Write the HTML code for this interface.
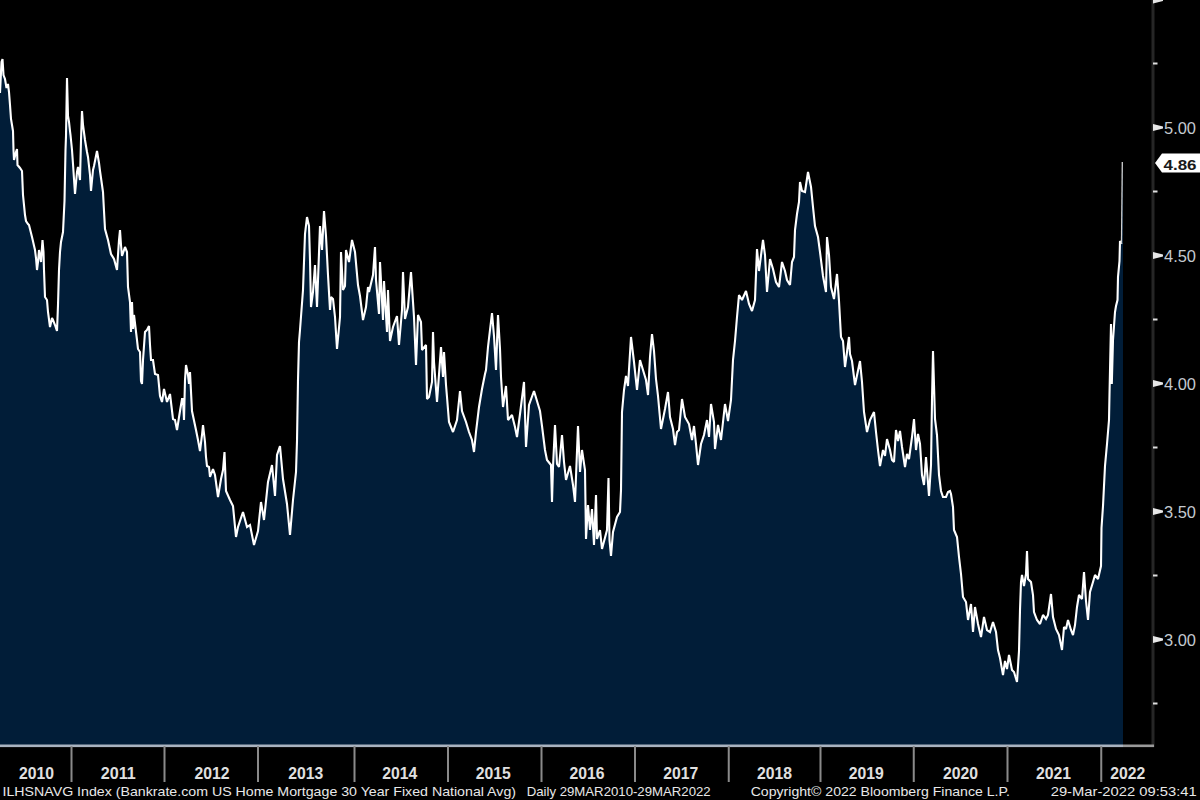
<!DOCTYPE html>
<html><head><meta charset="utf-8">
<style>
html,body{margin:0;padding:0;background:#000;}
body{width:1200px;height:800px;overflow:hidden;position:relative;font-family:"Liberation Sans",sans-serif;}
svg{position:absolute;left:0;top:0;}
.yr text{font-family:"Liberation Sans",sans-serif;font-size:16.2px;font-weight:bold;fill:#e0e0e0;}
.ax text{font-family:"Liberation Sans",sans-serif;font-size:16px;fill:#c4cad0;}
.ft text{font-family:"Liberation Sans",sans-serif;font-size:13px;fill:#e8e8e8;}
</style></head><body>
<svg width="1200" height="800" viewBox="0 0 1200 800">
<path d="M0,746 L0,93 L1.5,62 L2.5,59 L3.5,75 L5,79 L6.5,88 L8,84 L9,92 L10,105 L11,119 L12.5,128 L13,131 L13.5,150 L14,160 L16,152 L17,149 L17.5,165 L20,168 L22,171 L23,195 L25,215 L26,221 L28,224 L29,225 L32,237 L35,250 L36,258 L37,270 L38,262 L39,250 L41,262 L42.5,240 L43.5,252 L44,270 L45,297 L47,300 L48,312 L50,327 L52,318 L53,320 L55,325 L57,331 L58,305 L59,270 L60,252 L61,242 L63,232 L64.5,201 L65.5,150 L66,136 L67,78 L68,116 L69,122 L70,131 L70.5,135 L72,150 L73,164 L75,194 L77,172 L78,167 L80,180 L81,140 L82,111 L83,125 L85,140 L87,152 L88,157 L90,175 L91,191 L93,170 L94,166 L97,151 L99,163 L100,171 L102,185 L103,192 L104,211 L105,229 L108,240 L111,254 L114,259 L117,270 L119,240 L120,230 L121,245 L122,256 L125,247 L127,252 L128,287 L130,302 L131,332 L132,302 L133,329 L134,315 L137,340 L138,349 L140,352 L141,381 L142,384 L143,360 L145,332 L147,330 L149,326 L150,345 L151,360 L153,360 L155,374 L158,375 L160,396 L162,402 L164,389 L167,402 L170,394 L173,419 L175,420 L177,430 L180,411 L182,399 L183,399 L184,420 L185,380 L186,365 L188,375 L189,384 L190,372 L192,411 L196,430 L198,440 L200,451 L202,435 L203,425 L205,442 L206,457 L207,466 L209,467 L210,477 L213,469 L215,475 L218,497 L221,479 L223,470 L224.5,452 L226,491 L230,500 L233,506 L236,537 L238,527 L243,512 L247,527 L250,525 L254,545 L258,531 L261,502 L264,520 L268,482 L272,465 L275,496 L277,455 L280,446 L283,479 L287,504 L290,535 L293,500 L296,472 L297,441 L298,380 L299,342 L300,330 L303,290 L305,234 L307,217 L309,226 L310,260 L311,307 L313,292 L315,265 L317,307 L320,226 L322,250 L324,211 L326,236 L328,275 L330,310 L331,297 L333,299 L335,317 L337,349 L340,317 L341,252 L343,290 L345,286 L346,250 L349,262 L352,240 L355,252 L358,285 L360,296 L363,320 L366,307 L368,287 L369,292 L373,275 L375,247 L376,280 L379,314 L380,262 L383,320 L384,281 L387,332 L388,290 L390,341 L393,327 L397,316 L399,345 L402,310 L403,272 L405,319 L408,307 L411,272 L414,317 L416,365 L418,315 L421,322 L422,350 L426,345 L427,399 L429,397 L432,382 L433,332 L434,362 L437,402 L441,347 L443,377 L444,352 L446,385 L447,397 L449,422 L453,432 L457,420 L460,391 L462,411 L466,422 L469,432 L472,440 L474,452 L476,432 L479,407 L482,389 L485,374 L486,370 L488,347 L492,313 L494,336 L496,370 L498,315 L500,349 L501,377 L503,407 L506,386 L508,420 L512,415 L515,427 L517,437 L520,414 L524,382 L526,447 L529,405 L534,391 L537,401 L540,411 L542,426 L545,450 L547,460 L551,465 L552,502 L553,467 L555,425 L557,464 L559,467 L562,435 L564,462 L566,480 L570,466 L573,485 L575,502 L578,426 L580,472 L582,450 L585,470 L586,539 L588,505 L590,530 L592,509 L594,545 L596,495 L597,539 L600,530 L602,549 L607,530 L608.5,478 L609.5,540 L611,556 L613,532 L617,517 L620,512 L621,490 L622,412 L624,390 L626,376 L628,386 L631,337 L634,362 L637,390 L640,360 L643,370 L646,380 L648,395 L650,357 L652,334 L654,351 L656,379 L658,396 L661,429 L665,409 L668,392 L670,417 L673,429 L675,445 L677,432 L679,430 L682,399 L685,417 L689,424 L692,440 L694,426 L696,444 L698,465 L701,444 L704,435 L707,420 L709,437 L711,404 L714,422 L715,449 L718,425 L721,440 L725,404 L728,421 L731,400 L733,360 L735,341 L737,317 L739,295 L742,300 L746,291 L749,304 L752,311 L755,300 L757,249 L759,271 L763,240 L765,255 L767,292 L770,259 L773,269 L776,282 L779,287 L782,262 L785,271 L787,280 L790,285 L792,262 L794,257 L795,230 L797,214 L799,202 L800,182 L802,191 L805,192 L808,172 L811,187 L813,207 L815,226 L818,237 L820,252 L823,276 L826,292 L827,237 L829,255 L831,287 L834,299 L837,274 L839,301 L841,337 L843,341 L845,367 L849,337 L850,354 L852,361 L855,385 L860,361 L862,382 L864,412 L867,432 L870,420 L874,412 L876,432 L878,450 L880,466 L883,450 L885,456 L887,439 L890,450 L892,460 L894,462 L896,430 L898,441 L900,431 L902,447 L905,467 L907,454 L909,459 L912,437 L914,419 L916,450 L918,434 L920,444 L922,475 L924,485 L926,457 L929,496 L931,465 L932,400 L933,351 L935,419 L937,435 L939,475 L941,491 L943,497 L946,497 L948,492 L950,491 L951,494 L953,507 L954,530 L957,537 L959,557 L961,574 L963,597 L966,602 L968,620 L971,604 L973,632 L975,607 L978,624 L981,637 L984,617 L987,630 L990,632 L993,622 L996,632 L998,650 L1000,658 L1003,675 L1005,661 L1007,669 L1009,655 L1012,670 L1014,672 L1017,682 L1019,651 L1020,610 L1021,582 L1022,575 L1024,586 L1026,574 L1027,551 L1028,579 L1031,582 L1033,595 L1034,612 L1037,620 L1040,624 L1043,615 L1046,619 L1048,615 L1051,594 L1053,617 L1056,629 L1059,635 L1062,650 L1064,627 L1066,629 L1068,620 L1071,630 L1073,635 L1075,625 L1077,607 L1079,595 L1082,599 L1084,572 L1086,601 L1088,620 L1090,592 L1093,582 L1095,575 L1098,579 L1101,566 L1101.5,528 L1103,506 L1105,466 L1107,444 L1109,420 L1109.5,394 L1111,324 L1111.8,384 L1113,340 L1115,312 L1116,306 L1117.5,300 L1118,277 L1119.5,261 L1120,241 L1121.5,244 L1122.3,162 L1123,162 L1123,746 Z" fill="#011d38"/>
<polyline points="0,93 1.5,62 2.5,59 3.5,75 5,79 6.5,88 8,84 9,92 10,105 11,119 12.5,128 13,131 13.5,150 14,160 16,152 17,149 17.5,165 20,168 22,171 23,195 25,215 26,221 28,224 29,225 32,237 35,250 36,258 37,270 38,262 39,250 41,262 42.5,240 43.5,252 44,270 45,297 47,300 48,312 50,327 52,318 53,320 55,325 57,331 58,305 59,270 60,252 61,242 63,232 64.5,201 65.5,150 66,136 67,78 68,116 69,122 70,131 70.5,135 72,150 73,164 75,194 77,172 78,167 80,180 81,140 82,111 83,125 85,140 87,152 88,157 90,175 91,191 93,170 94,166 97,151 99,163 100,171 102,185 103,192 104,211 105,229 108,240 111,254 114,259 117,270 119,240 120,230 121,245 122,256 125,247 127,252 128,287 130,302 131,332 132,302 133,329 134,315 137,340 138,349 140,352 141,381 142,384 143,360 145,332 147,330 149,326 150,345 151,360 153,360 155,374 158,375 160,396 162,402 164,389 167,402 170,394 173,419 175,420 177,430 180,411 182,399 183,399 184,420 185,380 186,365 188,375 189,384 190,372 192,411 196,430 198,440 200,451 202,435 203,425 205,442 206,457 207,466 209,467 210,477 213,469 215,475 218,497 221,479 223,470 224.5,452 226,491 230,500 233,506 236,537 238,527 243,512 247,527 250,525 254,545 258,531 261,502 264,520 268,482 272,465 275,496 277,455 280,446 283,479 287,504 290,535 293,500 296,472 297,441 298,380 299,342 300,330 303,290 305,234 307,217 309,226 310,260 311,307 313,292 315,265 317,307 320,226 322,250 324,211 326,236 328,275 330,310 331,297 333,299 335,317 337,349 340,317 341,252 343,290 345,286 346,250 349,262 352,240 355,252 358,285 360,296 363,320 366,307 368,287 369,292 373,275 375,247 376,280 379,314 380,262 383,320 384,281 387,332 388,290 390,341 393,327 397,316 399,345 402,310 403,272 405,319 408,307 411,272 414,317 416,365 418,315 421,322 422,350 426,345 427,399 429,397 432,382 433,332 434,362 437,402 441,347 443,377 444,352 446,385 447,397 449,422 453,432 457,420 460,391 462,411 466,422 469,432 472,440 474,452 476,432 479,407 482,389 485,374 486,370 488,347 492,313 494,336 496,370 498,315 500,349 501,377 503,407 506,386 508,420 512,415 515,427 517,437 520,414 524,382 526,447 529,405 534,391 537,401 540,411 542,426 545,450 547,460 551,465 552,502 553,467 555,425 557,464 559,467 562,435 564,462 566,480 570,466 573,485 575,502 578,426 580,472 582,450 585,470 586,539 588,505 590,530 592,509 594,545 596,495 597,539 600,530 602,549 607,530 608.5,478 609.5,540 611,556 613,532 617,517 620,512 621,490 622,412 624,390 626,376 628,386 631,337 634,362 637,390 640,360 643,370 646,380 648,395 650,357 652,334 654,351 656,379 658,396 661,429 665,409 668,392 670,417 673,429 675,445 677,432 679,430 682,399 685,417 689,424 692,440 694,426 696,444 698,465 701,444 704,435 707,420 709,437 711,404 714,422 715,449 718,425 721,440 725,404 728,421 731,400 733,360 735,341 737,317 739,295 742,300 746,291 749,304 752,311 755,300 757,249 759,271 763,240 765,255 767,292 770,259 773,269 776,282 779,287 782,262 785,271 787,280 790,285 792,262 794,257 795,230 797,214 799,202 800,182 802,191 805,192 808,172 811,187 813,207 815,226 818,237 820,252 823,276 826,292 827,237 829,255 831,287 834,299 837,274 839,301 841,337 843,341 845,367 849,337 850,354 852,361 855,385 860,361 862,382 864,412 867,432 870,420 874,412 876,432 878,450 880,466 883,450 885,456 887,439 890,450 892,460 894,462 896,430 898,441 900,431 902,447 905,467 907,454 909,459 912,437 914,419 916,450 918,434 920,444 922,475 924,485 926,457 929,496 931,465 932,400 933,351 935,419 937,435 939,475 941,491 943,497 946,497 948,492 950,491 951,494 953,507 954,530 957,537 959,557 961,574 963,597 966,602 968,620 971,604 973,632 975,607 978,624 981,637 984,617 987,630 990,632 993,622 996,632 998,650 1000,658 1003,675 1005,661 1007,669 1009,655 1012,670 1014,672 1017,682 1019,651 1020,610 1021,582 1022,575 1024,586 1026,574 1027,551 1028,579 1031,582 1033,595 1034,612 1037,620 1040,624 1043,615 1046,619 1048,615 1051,594 1053,617 1056,629 1059,635 1062,650 1064,627 1066,629 1068,620 1071,630 1073,635 1075,625 1077,607 1079,595 1082,599 1084,572 1086,601 1088,620 1090,592 1093,582 1095,575 1098,579 1101,566 1101.5,528 1103,506 1105,466 1107,444 1109,420 1109.5,394 1111,324 1111.8,384 1113,340 1115,312 1116,306 1117.5,300 1118,277 1119.5,261 1120,241 1121.5,244" fill="none" stroke="#ffffff" stroke-width="2.1" stroke-linejoin="miter" stroke-miterlimit="2"/>
<polyline points="1121.5,244 1122.3,162" fill="none" stroke="#d0d0d0" stroke-width="1.3"/>
<rect x="1151.5" y="0" width="3" height="747" fill="#262626"/>
<rect x="0" y="744.5" width="1123" height="2.6" fill="#a9b3c0"/>
<rect x="1123" y="744.5" width="31" height="2.6" fill="#9a9a9a"/>
<rect x="70.50" y="746" width="2" height="36" fill="#8a8a8a"/><rect x="163.50" y="746" width="2" height="36" fill="#8a8a8a"/><rect x="257.00" y="746" width="2" height="36" fill="#8a8a8a"/><rect x="353.50" y="746" width="2" height="36" fill="#8a8a8a"/><rect x="447.00" y="746" width="2" height="36" fill="#8a8a8a"/><rect x="540.50" y="746" width="2" height="36" fill="#8a8a8a"/><rect x="634.00" y="746" width="2" height="36" fill="#8a8a8a"/><rect x="727.75" y="746" width="2" height="36" fill="#8a8a8a"/><rect x="819.50" y="746" width="2" height="36" fill="#8a8a8a"/><rect x="912.75" y="746" width="2" height="36" fill="#8a8a8a"/><rect x="1006.50" y="746" width="2" height="36" fill="#8a8a8a"/><rect x="1100.25" y="746" width="2" height="36" fill="#8a8a8a"/>
<g class="yr"><text x="19.0" y="779.3" textLength="35" lengthAdjust="spacingAndGlyphs">2010</text><text x="100.8" y="779.3" textLength="35" lengthAdjust="spacingAndGlyphs">2011</text><text x="194.5" y="779.3" textLength="35" lengthAdjust="spacingAndGlyphs">2012</text><text x="288.3" y="779.3" textLength="35" lengthAdjust="spacingAndGlyphs">2013</text><text x="382.3" y="779.3" textLength="35" lengthAdjust="spacingAndGlyphs">2014</text><text x="475.8" y="779.3" textLength="35" lengthAdjust="spacingAndGlyphs">2015</text><text x="569.6" y="779.3" textLength="35" lengthAdjust="spacingAndGlyphs">2016</text><text x="663.2" y="779.3" textLength="35" lengthAdjust="spacingAndGlyphs">2017</text><text x="757.0" y="779.3" textLength="35" lengthAdjust="spacingAndGlyphs">2018</text><text x="848.8" y="779.3" textLength="35" lengthAdjust="spacingAndGlyphs">2019</text><text x="943.0" y="779.3" textLength="35" lengthAdjust="spacingAndGlyphs">2020</text><text x="1036.0" y="779.3" textLength="35" lengthAdjust="spacingAndGlyphs">2021</text><text x="1110.2" y="779.3" textLength="35" lengthAdjust="spacingAndGlyphs">2022</text></g>
<g class="ax"><polygon points="1153,-3.5 1163,-1.0 1163,1.0 1153,3.5" fill="#e6e6e6"/><polygon points="1153,124.0 1163,126.5 1163,128.5 1153,131.0" fill="#e6e6e6"/><text x="1164" y="133.5" textLength="32" lengthAdjust="spacingAndGlyphs">5.00</text><polygon points="1153,252.0 1163,254.5 1163,256.5 1153,259.0" fill="#e6e6e6"/><text x="1164" y="261.5" textLength="32" lengthAdjust="spacingAndGlyphs">4.50</text><polygon points="1153,380.0 1163,382.5 1163,384.5 1153,387.0" fill="#e6e6e6"/><text x="1164" y="389.5" textLength="32" lengthAdjust="spacingAndGlyphs">4.00</text><polygon points="1153,508.0 1163,510.5 1163,512.5 1153,515.0" fill="#e6e6e6"/><text x="1164" y="517.5" textLength="32" lengthAdjust="spacingAndGlyphs">3.50</text><polygon points="1153,636.0 1163,638.5 1163,640.5 1153,643.0" fill="#e6e6e6"/><text x="1164" y="645.5" textLength="32" lengthAdjust="spacingAndGlyphs">3.00</text><rect x="1153" y="62.5" width="4.5" height="2" fill="#dedede"/><rect x="1153" y="190.5" width="4.5" height="2" fill="#dedede"/><rect x="1153" y="318.5" width="4.5" height="2" fill="#dedede"/><rect x="1153" y="446.5" width="4.5" height="2" fill="#dedede"/><rect x="1153" y="574.5" width="4.5" height="2" fill="#dedede"/><rect x="1153" y="702.5" width="4.5" height="2" fill="#dedede"/></g>
<polygon points="1155,163 1162,153.5 1200,153.5 1200,172.5 1162,172.5" fill="#ffffff"/>
<text x="1163.5" y="169.5" font-family="Liberation Sans" font-size="15.5" font-weight="bold" fill="#1a1a1a" textLength="33" lengthAdjust="spacingAndGlyphs">4.86</text>
<g class="ft"><text x="2.5" y="796" textLength="513.5" lengthAdjust="spacingAndGlyphs">ILHSNAVG Index (Bankrate.com US Home Mortgage 30 Year Fixed National Avg)</text><text x="526.7" y="796" textLength="184" lengthAdjust="spacingAndGlyphs">Daily 29MAR2010-29MAR2022</text><text x="750.7" y="796" textLength="259.3" lengthAdjust="spacingAndGlyphs">Copyright&#169; 2022 Bloomberg Finance L.P.</text><text x="1050.7" y="796" textLength="146" lengthAdjust="spacingAndGlyphs">29-Mar-2022 09:53:41</text></g>
</svg>
</body></html>
